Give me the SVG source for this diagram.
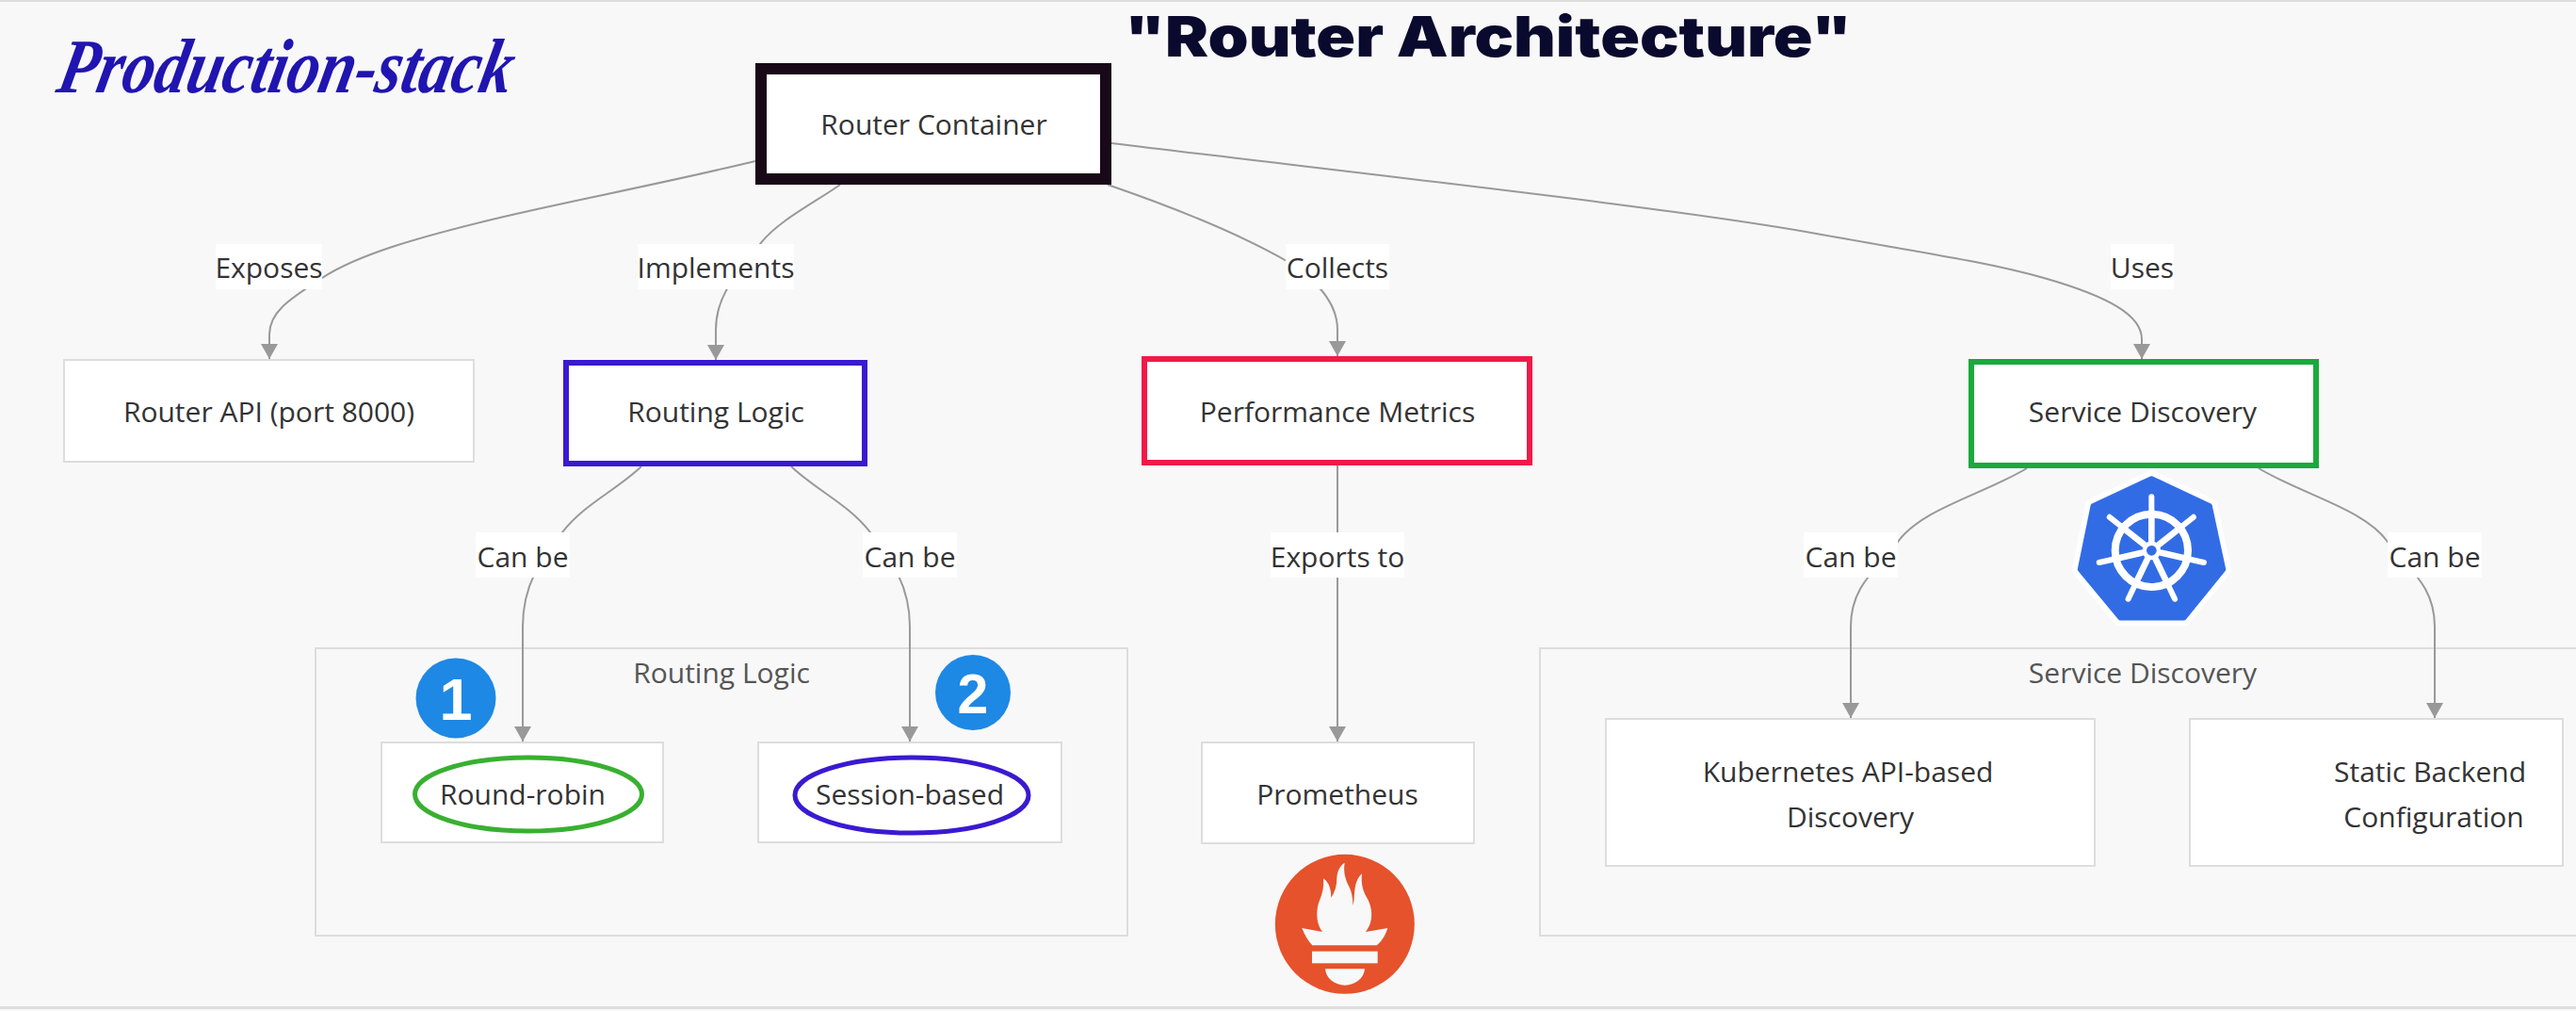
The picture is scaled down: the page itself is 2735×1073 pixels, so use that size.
<svg xmlns="http://www.w3.org/2000/svg" width="2735" height="1073" viewBox="0 0 2735 1073">
<style>
.t{font-family:"Open Sans","Noto Sans",sans-serif;font-size:30px;fill:#333;text-anchor:middle}
.g{fill:#555}
.n{fill:#fff;stroke:#ddd;stroke-width:2}
.c{fill:none;stroke:#ddd;stroke-width:2}
.e{fill:none;stroke:#999;stroke-width:2;marker-end:url(#ah)}
.l{fill:#fff}
.d{font-family:"Liberation Sans",Arial,sans-serif;font-weight:700;fill:#fff;text-anchor:middle}
</style>
<defs><marker id="ah" markerUnits="userSpaceOnUse" markerWidth="16" markerHeight="18" viewBox="0 0 16 18" refX="16" refY="9" orient="auto"><path d="M0,0L16,9L0,18Z" fill="#999"/></marker></defs>
<rect width="2735" height="1073" fill="#f8f8f8"/>
<rect width="2735" height="2" fill="#ddd"/>
<rect y="1068" width="2735" height="3" fill="#ddd"/>
<g id="title"><text x="1580" y="60" font-family="Inter,'Liberation Sans',sans-serif" font-weight="900" font-size="59" fill="#0a0a2e" text-anchor="middle" textLength="772" lengthAdjust="spacingAndGlyphs">"Router Architecture"</text></g>
<g id="brand"><text transform="translate(58,98) skewX(-12)" font-family="'Liberation Serif',serif" font-weight="700" font-style="italic" font-size="82" fill="#2015b0" textLength="482" lengthAdjust="spacingAndGlyphs">Production-stack</text></g>
<g id="group-routing"><rect class="c" x="335" y="688" width="862" height="305"/><text class="t g" x="766" y="725">Routing Logic</text></g>
<g id="group-discovery"><rect class="c" x="1635" y="688" width="1110" height="305"/><text class="t g" x="2275" y="725">Service Discovery</text></g>
<g id="connectors">
<path class="e" d="M802,171C690,198 590,216 514,235C445,252 380,270 342,295C310,316 286,330 286,355L286,381"/>
<path class="e" d="M892,196C865,215 825,235 807,259C788,285 760,310 760,350L760,382"/>
<path class="e" d="M1176,196C1240,218 1310,245 1366,277C1395,295 1420,320 1420,350L1420,378"/>
<path class="e" d="M1180,152C1450,185 1790,222 1934,249C2040,268 2110,278 2170,295C2240,315 2274,335 2274,360L2274,381"/>
<path class="e" d="M681,495C655,520 620,535 597,565C575,593 555,620 555,665L555,787"/>
<path class="e" d="M840,495C866,520 901,535 924,565C945,593 966,620 966,665L966,787"/>
<path class="e" d="M1420,494L1420,787"/>
<path class="e" d="M2152,497C2105,525 2040,540 2015,575C1995,603 1965,620 1965,665L1965,762"/>
<path class="e" d="M2398,497C2445,525 2510,540 2535,575C2555,603 2585,620 2585,665L2585,762"/>
</g>
<g id="edge-labels">
<rect class="l" x="229" y="259" width="113" height="48"/><text class="t" x="285.500" y="295">Exposes</text>
<rect class="l" x="677" y="259" width="166" height="48"/><text class="t" x="760" y="295">Implements</text>
<rect class="l" x="1365" y="259" width="110" height="48"/><text class="t" x="1420" y="295">Collects</text>
<rect class="l" x="2241" y="259" width="67" height="48"/><text class="t" x="2274.500" y="295">Uses</text>
<rect class="l" x="505" y="565" width="100" height="48"/><text class="t" x="555" y="602">Can be</text>
<rect class="l" x="916" y="565" width="100" height="48"/><text class="t" x="966" y="602">Can be</text>
<rect class="l" x="1349" y="565" width="142" height="48"/><text class="t" x="1420" y="602">Exports to</text>
<rect class="l" x="1915" y="565" width="100" height="48"/><text class="t" x="1965" y="602">Can be</text>
<rect class="l" x="2535" y="565" width="100" height="48"/><text class="t" x="2585" y="602">Can be</text>
</g>
<g id="router-container"><rect x="808" y="73" width="366" height="117" fill="#fff" stroke="#180818" stroke-width="12"/><text class="t" x="991.500" y="143">Router Container</text></g>
<g id="router-api"><rect class="n" x="68" y="382" width="435" height="108"/><text class="t" x="285.500" y="448">Router API (port 8000)</text></g>
<g id="routing-logic"><rect x="601" y="385" width="317" height="107" fill="#fff" stroke="#3a1ad0" stroke-width="6"/><text class="t" x="760" y="448">Routing Logic</text></g>
<g id="performance-metrics"><rect x="1215" y="381" width="409" height="110" fill="#fff" stroke="#f01a48" stroke-width="6"/><text class="t" x="1420" y="448">Performance Metrics</text></g>
<g id="service-discovery"><rect x="2093" y="384" width="366" height="110" fill="#fff" stroke="#1aaa3c" stroke-width="6"/><text class="t" x="2275" y="448">Service Discovery</text></g>
<g id="round-robin"><rect class="n" x="405" y="788" width="299" height="106"/><ellipse cx="561" cy="843" rx="120.500" ry="39" fill="none" stroke="#38b030" stroke-width="5"/><text class="t" x="555" y="854">Round-robin</text></g>
<g id="session-based"><rect class="n" x="805" y="788" width="322" height="106"/><ellipse cx="968" cy="844" rx="124" ry="40" fill="none" stroke="#3a1ad0" stroke-width="5"/><text class="t" x="966" y="854">Session-based</text></g>
<g id="prometheus"><rect class="n" x="1276" y="788" width="289" height="107"/><text class="t" x="1420" y="854">Prometheus</text></g>
<g id="kubernetes-api"><rect class="n" x="1705" y="763" width="519" height="156"/><text class="t" x="1962" y="830">Kubernetes API-based</text><text class="t" x="1964.500" y="878">Discovery</text></g>
<g id="static-backend"><rect class="n" x="2325" y="763" width="396" height="156"/><text class="t" x="2580" y="830">Static Backend</text><text class="t" x="2584" y="878">Configuration</text></g>
<g id="badge-1"><circle cx="484" cy="741" r="42.500" fill="#1e88e5"/><text class="d" x="484" y="764" font-size="63">1</text></g>
<g id="badge-2"><circle cx="1033" cy="735" r="40" fill="#1e88e5"/><text class="d" x="1033" y="757" font-size="59">2</text></g>
<g id="kubernetes-logo" transform="translate(2170,490) scale(.33333)">
<path d="M343,53.600L528.300,140.400L571.700,343L446.300,497.500L243.600,497.500L115.300,343L156.800,140.400Z" fill="#fff" stroke="#fff" stroke-width="50" stroke-linejoin="round"/>
<path d="M343,53.600L528.300,140.400L571.700,343L446.300,497.500L243.600,497.500L115.300,343L156.800,140.400Z" fill="#326ce5" stroke="#326ce5" stroke-width="16" stroke-linejoin="round"/>
<g stroke="#fff" fill="none" stroke-linecap="round">
<circle cx="343" cy="283" r="116" stroke-width="24"/>
<g id="spoke"><path d="M343,112V160" stroke-width="18"/><path d="M343,160V250" stroke-width="20"/></g>
<use href="#spoke" transform="rotate(51.430 343 283)"/><use href="#spoke" transform="rotate(102.860 343 283)"/><use href="#spoke" transform="rotate(154.290 343 283)"/><use href="#spoke" transform="rotate(205.710 343 283)"/><use href="#spoke" transform="rotate(257.140 343 283)"/><use href="#spoke" transform="rotate(308.570 343 283)"/>
</g>
<circle cx="343" cy="283" r="30" fill="#fff"/><circle cx="343" cy="283" r="16" fill="#326ce5"/>
</g>
<g id="prometheus-logo" transform="translate(1330,890) scale(.33333)">
<circle cx="293.500" cy="272.500" r="222" fill="#e6522c"/>
<path fill="#f8f8f8" d="M157,285L222,297C205,275 200,240 210,205C220,180 228,160 225,127C245,140 250,165 250,188C262,170 268,150 268,125C270,100 280,85 293,77C288,105 295,130 308,155C318,175 318,195 320,213C325,190 322,165 330,140C335,125 342,118 348,112C345,140 350,165 362,185C378,210 382,240 376,265C372,280 365,290 360,297L430,285C422,310 410,328 395,340L190,340C175,325 165,305 157,285Z"/>
<rect x="189" y="359" width="209" height="38" fill="#f8f8f8"/>
<path fill="#f8f8f8" d="M231,415H357C355,445 325,467 294,467C262,467 233,445 231,415Z"/>
</g>
</svg>
